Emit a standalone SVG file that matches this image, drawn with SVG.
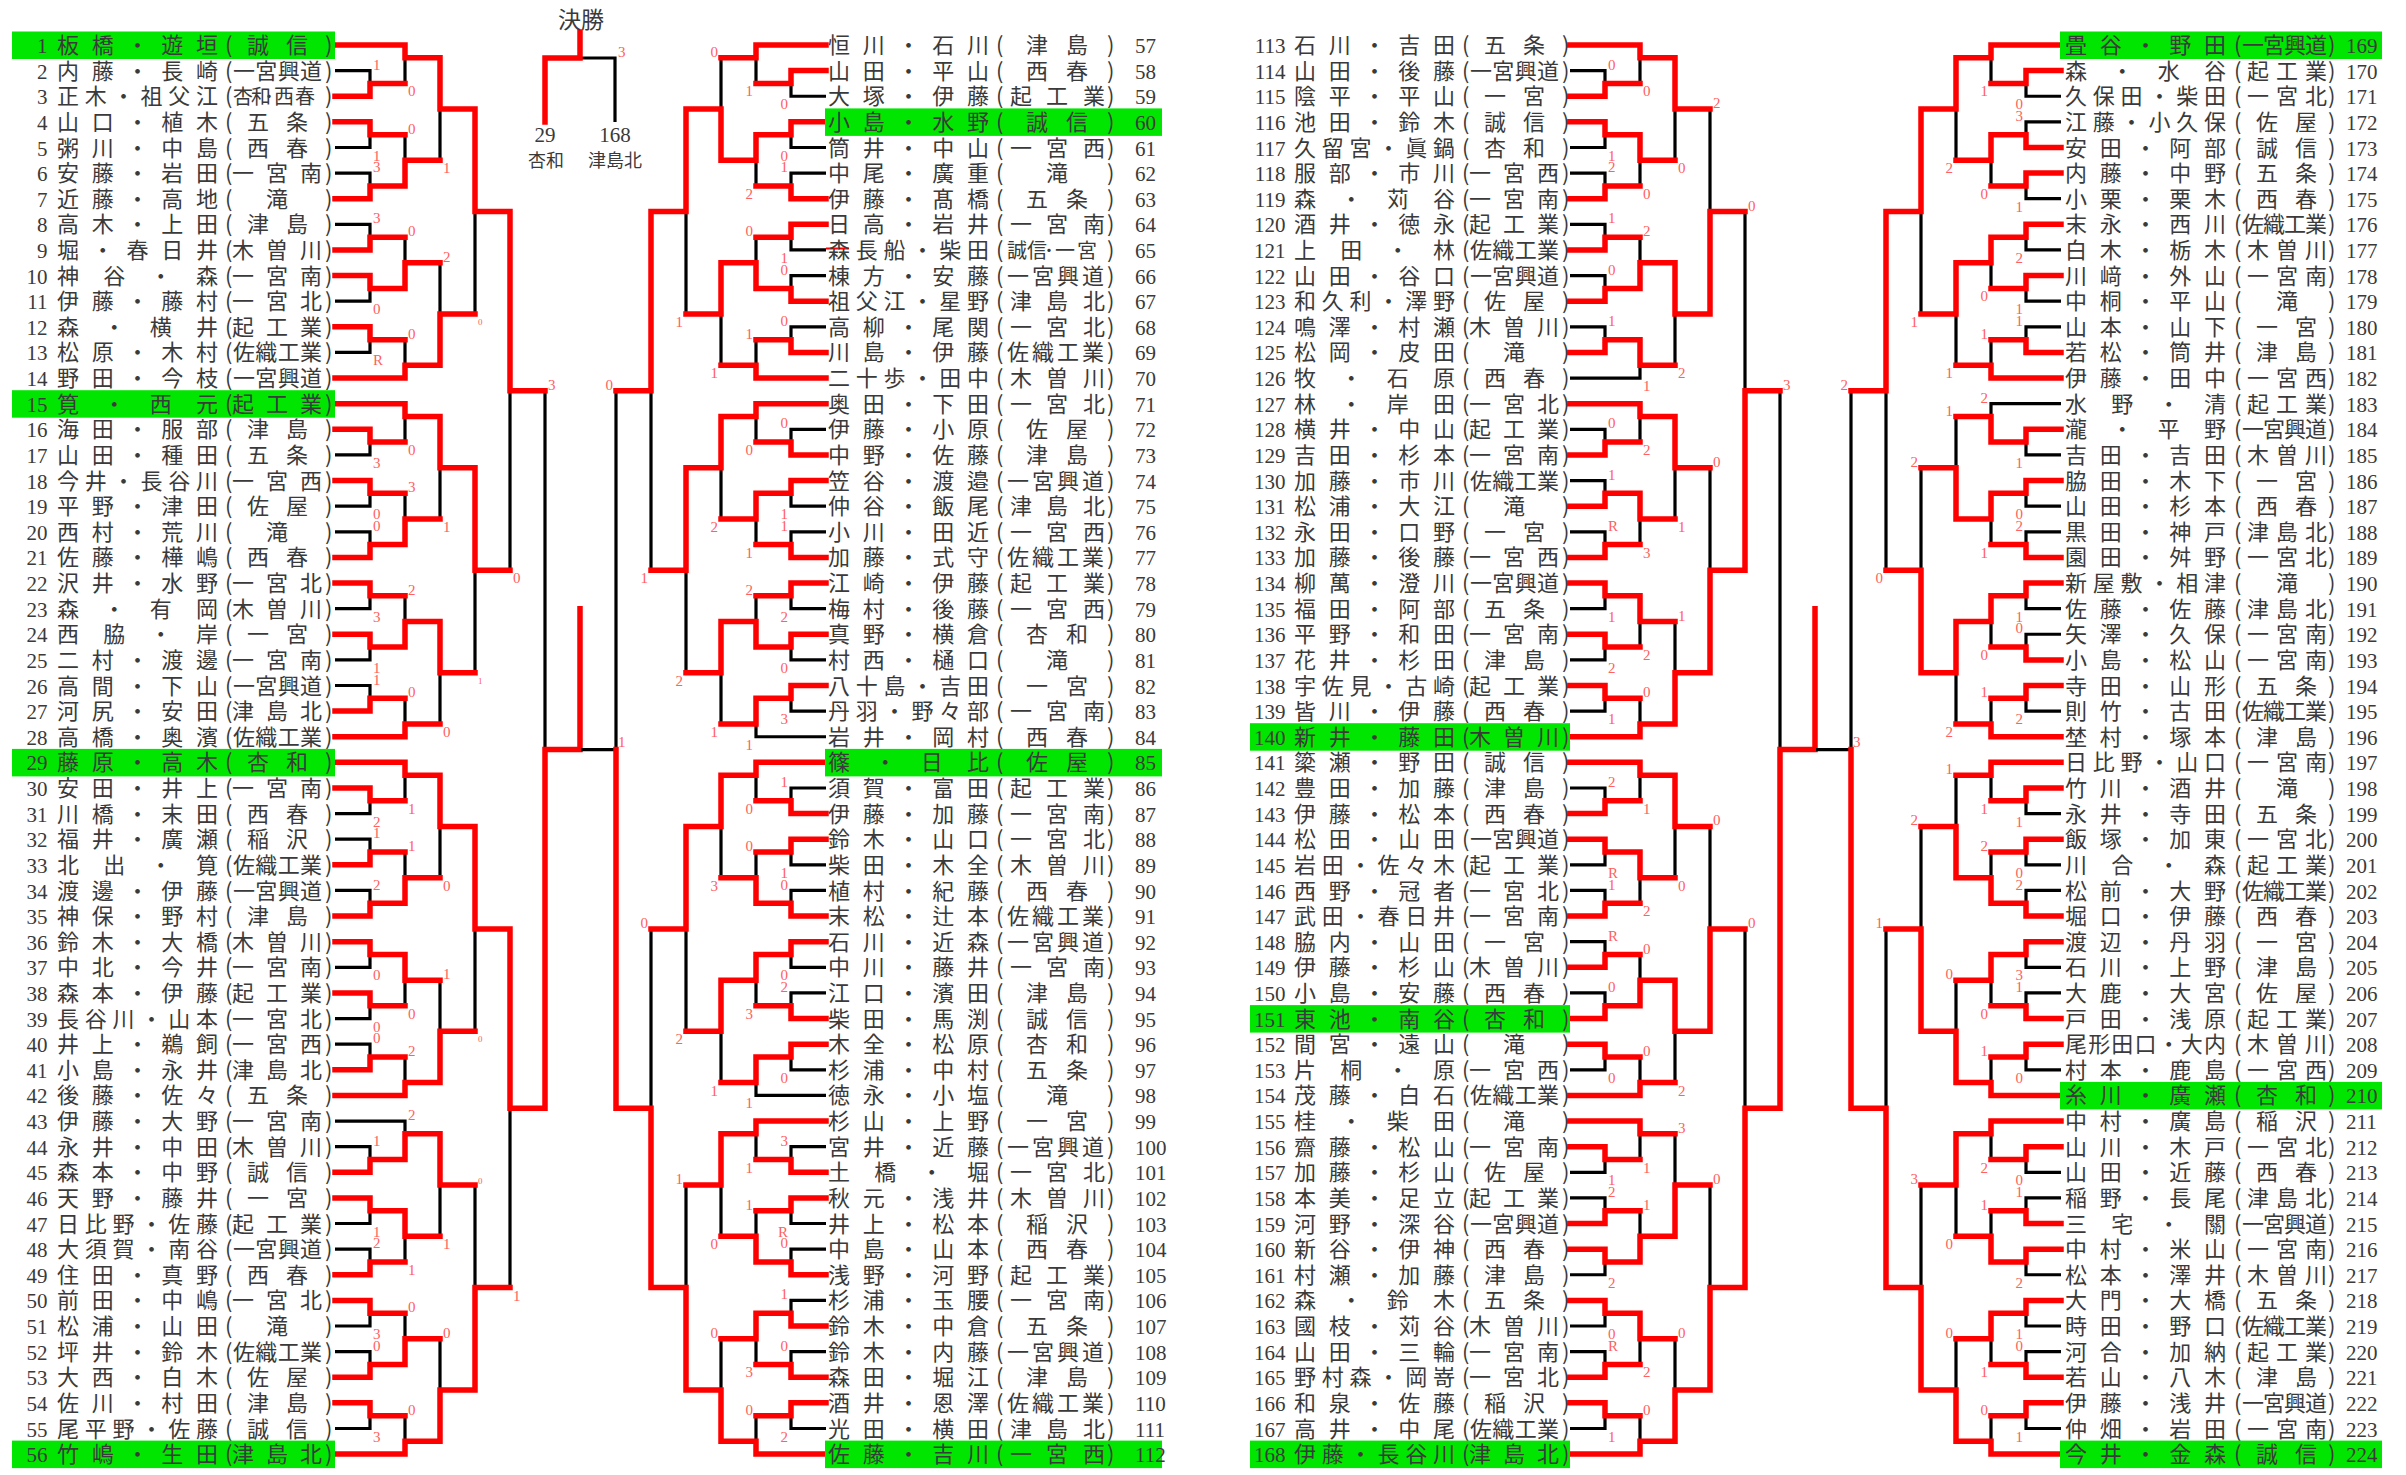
<svg xmlns="http://www.w3.org/2000/svg" width="2406" height="1475" viewBox="0 0 2406 1475">
<style>
.n{font-family:"Noto Sans CJK JP","Noto Sans CJK SC",sans-serif;font-size:22px;fill:#3a3a3a}
.d{font-family:"Liberation Serif",serif;font-size:21px;fill:#3a3a3a}
.e{text-anchor:end}
.m{text-anchor:middle}
.s{font-family:"Liberation Serif",serif;font-size:15px;fill:#ff6060}
.ss{font-size:9px}
.hl{fill:#00e600}
.k{fill:none;stroke:#000;stroke-width:3.2}
.r{fill:none;stroke:#f00;stroke-width:5.5;stroke-linecap:square;stroke-linejoin:miter}
</style>
<defs>
<path id="gb" vector-effect="non-scaling-stroke" fill="none" stroke="#000" stroke-width="3.2" d="M0 1H1V2H0M0 3H1V4H0M0 5H1V6H0M0 7H1V8H0M0 9H1V10H0M0 11H1V12H0M0 0H2V1.5H1M1 3.5H2V5.5H1M1 7.5H2V9.5H1M1 11.5H2V13H0M2 .5H3V4.5H2M2 8.5H3V12.5H2M3 2.5H4V10.5H3"/>
</defs>
<rect width="2406" height="1475" fill="#fff"/>

<g id="connectors">
<g id="bracket1" transform="translate(335 45) scale(35 25.62)">
<use href="#gb"/><use href="#gb" y="14"/><use href="#gb" y="28"/><use href="#gb" y="42"/>
<path class="k" vector-effect="non-scaling-stroke" d="M4 6.5H5V20.5H4M4 34.5H5V48.5H4M5 13.5H6V41.5H5M6 27.5H7"/>
<path class="r" vector-effect="non-scaling-stroke" d="M0 2H1V1.5H2M0 3H1V3.5H2M0 6H1V5.5H2M0 8H1V7.5H2M0 9H1V9.5H2M0 11H1V11.5H2M0 0H2V.5H3M1 5.5H2V4.5H3M1 9.5H2V8.5H3M0 13H2V12.5H3M2 .5H3V2.5H4M2 12.5H3V10.5H4M3 2.5H4V6.5H5
M0 15H1V15.5H2M0 17H1V17.5H2M0 20H1V19.5H2M0 21H1V21.5H2M0 23H1V23.5H2M0 26H1V25.5H2M0 14H2V14.5H3M1 19.5H2V18.5H3M1 23.5H2V22.5H3M0 27H2V26.5H3M2 14.5H3V16.5H4M2 22.5H3V24.5H4M3 16.5H4V20.5H5
M0 29H1V29.5H2M0 32H1V31.5H2M0 34H1V33.5H2M0 35H1V35.5H2M0 37H1V37.5H2M0 40H1V39.5H2M0 28H2V28.5H3M1 33.5H2V32.5H3M1 35.5H2V36.5H3M0 41H2V40.5H3M2 28.5H3V30.5H4M2 40.5H3V38.5H4M3 30.5H4V34.5H5
M0 44H1V43.5H2M0 45H1V45.5H2M0 48H1V47.5H2M0 49H1V49.5H2M0 52H1V51.5H2M0 53H1V53.5H2M1 43.5H2V42.5H3M1 45.5H2V46.5H3M1 51.5H2V50.5H3M0 55H2V54.5H3M2 42.5H3V44.5H4M2 54.5H3V52.5H4M3 52.5H4V48.5H5
M4 6.5H5V13.5H6M4 34.5H5V41.5H6M5 41.5H6V27.5H7V22"/>
</g>
<g id="bracket2" transform="translate(826 45) scale(-35 25.62)">
<use href="#gb"/><use href="#gb" y="14"/><use href="#gb" y="28"/><use href="#gb" y="42"/>
<path class="k" vector-effect="non-scaling-stroke" d="M4 6.5H5V20.5H4M4 34.5H5V48.5H4M5 13.5H6V41.5H5M6 27.5H7"/>
<path class="r" vector-effect="non-scaling-stroke" d="M0 1H1V1.5H2M0 3H1V3.5H2M0 6H1V5.5H2M0 7H1V7.5H2M0 10H1V9.5H2M0 12H1V11.5H2M0 0H2V.5H3M1 3.5H2V4.5H3M1 9.5H2V8.5H3M0 13H2V12.5H3M2 4.5H3V2.5H4M2 8.5H3V10.5H4M3 2.5H4V6.5H5
M0 16H1V15.5H2M0 17H1V17.5H2M0 20H1V19.5H2M0 21H1V21.5H2M0 23H1V23.5H2M0 25H1V25.5H2M0 14H2V14.5H3M1 17.5H2V18.5H3M1 23.5H2V22.5H3M1 25.5H2V26.5H3M2 14.5H3V16.5H4M2 22.5H3V24.5H4M3 16.5H4V20.5H5
M0 30H1V29.5H2M0 31H1V31.5H2M0 34H1V33.5H2M0 35H1V35.5H2M0 38H1V37.5H2M0 39H1V39.5H2M0 28H2V28.5H3M1 33.5H2V32.5H3M1 35.5H2V36.5H3M1 39.5H2V40.5H3M2 28.5H3V30.5H4M2 36.5H3V38.5H4M3 30.5H4V34.5H5
M0 44H1V43.5H2M0 45H1V45.5H2M0 48H1V47.5H2M0 50H1V49.5H2M0 52H1V51.5H2M0 53H1V53.5H2M0 42H2V42.5H3M1 47.5H2V46.5H3M1 49.5H2V50.5H3M0 55H2V54.5H3M2 42.5H3V44.5H4M2 54.5H3V52.5H4M3 52.5H4V48.5H5
M4 6.5H5V13.5H6M4 48.5H5V41.5H6M5 41.5H6V27.5"/>
</g>
<g id="bracket3" transform="translate(1570 45) scale(35 25.62)">
<use href="#gb"/><use href="#gb" y="14"/><use href="#gb" y="28"/><use href="#gb" y="42"/>
<path class="k" vector-effect="non-scaling-stroke" d="M4 6.5H5V20.5H4M4 34.5H5V48.5H4M5 13.5H6V41.5H5M6 27.5H7"/>
<path class="r" vector-effect="non-scaling-stroke" d="M0 2H1V1.5H2M0 3H1V3.5H2M0 6H1V5.5H2M0 8H1V7.5H2M0 10H1V9.5H2M0 12H1V11.5H2M0 0H2V.5H3M1 3.5H2V4.5H3M1 9.5H2V8.5H3M1 11.5H2V12.5H3M2 .5H3V2.5H4M2 8.5H3V10.5H4M3 10.5H4V6.5H5
M0 16H1V15.5H2M0 18H1V17.5H2M0 20H1V19.5H2M0 21H1V21.5H2M0 23H1V23.5H2M0 25H1V25.5H2M0 14H2V14.5H3M1 17.5H2V18.5H3M1 21.5H2V22.5H3M0 27H2V26.5H3M2 14.5H3V16.5H4M2 26.5H3V24.5H4M3 24.5H4V20.5H5
M0 30H1V29.5H2M0 31H1V31.5H2M0 34H1V33.5H2M0 36H1V35.5H2M0 38H1V37.5H2M0 39H1V39.5H2M0 28H2V28.5H3M1 31.5H2V32.5H3M1 37.5H2V36.5H3M0 41H2V40.5H3M2 28.5H3V30.5H4M2 36.5H3V38.5H4M3 38.5H4V34.5H5
M0 43H1V43.5H2M0 46H1V45.5H2M0 47H1V47.5H2M0 49H1V49.5H2M0 52H1V51.5H2M0 53H1V53.5H2M0 42H2V42.5H3M1 47.5H2V46.5H3M1 49.5H2V50.5H3M0 55H2V54.5H3M2 46.5H3V44.5H4M2 54.5H3V52.5H4M3 52.5H4V48.5H5
M4 20.5H5V13.5H6M4 48.5H5V41.5H6M5 41.5H6V27.5H7V22"/>
</g>
<g id="bracket4" transform="translate(2061 45) scale(-35 25.62)">
<use href="#gb"/><use href="#gb" y="14"/><use href="#gb" y="28"/><use href="#gb" y="42"/>
<path class="k" vector-effect="non-scaling-stroke" d="M4 6.5H5V20.5H4M4 34.5H5V48.5H4M5 13.5H6V41.5H5M6 27.5H7"/>
<path class="r" vector-effect="non-scaling-stroke" d="M0 1H1V1.5H2M0 4H1V3.5H2M0 5H1V5.5H2M0 7H1V7.5H2M0 9H1V9.5H2M0 12H1V11.5H2M0 0H2V.5H3M1 3.5H2V4.5H3M1 7.5H2V8.5H3M0 13H2V12.5H3M2 .5H3V2.5H4M2 8.5H3V10.5H4M3 2.5H4V6.5H5
M0 15H1V15.5H2M0 17H1V17.5H2M0 20H1V19.5H2M0 21H1V21.5H2M0 24H1V23.5H2M0 25H1V25.5H2M1 15.5H2V14.5H3M1 17.5H2V18.5H3M1 21.5H2V22.5H3M0 27H2V26.5H3M2 18.5H3V16.5H4M2 22.5H3V24.5H4M3 24.5H4V20.5H5
M0 29H1V29.5H2M0 31H1V31.5H2M0 34H1V33.5H2M0 35H1V35.5H2M0 38H1V37.5H2M0 39H1V39.5H2M0 28H2V28.5H3M1 33.5H2V32.5H3M1 35.5H2V36.5H3M0 41H2V40.5H3M2 32.5H3V30.5H4M2 40.5H3V38.5H4M3 38.5H4V34.5H5
M0 43H1V43.5H2M0 46H1V45.5H2M0 47H1V47.5H2M0 49H1V49.5H2M0 52H1V51.5H2M0 53H1V53.5H2M0 42H2V42.5H3M1 47.5H2V46.5H3M1 49.5H2V50.5H3M0 55H2V54.5H3M2 42.5H3V44.5H4M2 54.5H3V52.5H4M3 52.5H4V48.5H5
M4 6.5H5V13.5H6M4 48.5H5V41.5H6M5 41.5H6V27.5"/>
</g>
<g id="final">
<path class="k" d="M580 58H615V122"/>
<path class="r" d="M580 32V58H545V122"/>
</g>
<path d="M826 248.5H849" stroke="#f00" stroke-width="2"/>
</g>

<g id="final-labels">
<text class="n m" x="581" y="28" style="font-size:23px">決勝</text>
<text class="d m" x="545" y="142">29</text>
<text class="d m" x="615" y="142">168</text>
<text class="n m" x="546" y="167" style="font-size:18px">杏和</text>
<text class="n m" x="615" y="167" style="font-size:18px">津島北</text>
<text class="s" x="618" y="57">3</text>
</g>

<g id="scores1" class="s">
<text x="373" y="69.6">1</text><text x="373" y="160.5">1</text><text x="373" y="172.1">3</text><text x="373" y="223.3">3</text><text x="373" y="314.2">0</text><text x="373" y="365.4">R</text>
<text x="408" y="96.4">0</text><text x="408" y="133.7">0</text><text x="408" y="236.2">0</text><text x="408" y="338.6">0</text>
<text x="443" y="173.3">1</text><text x="443" y="261.8">2</text><text class="ss" x="478" y="325">0</text>
<text x="373" y="467.9">3</text><text x="373" y="519.2">0</text><text x="373" y="530.8">0</text><text x="373" y="621.6">3</text><text x="373" y="672.9">1</text><text x="373" y="684.5">1</text>
<text x="408" y="455.1">0</text><text x="408" y="492.4">3</text><text x="408" y="594.8">2</text><text x="408" y="697.3">0</text>
<text x="443" y="532">1</text><text x="443" y="736.9">0</text><text class="ss" x="478" y="683.7">1</text><text x="513" y="583.2">0</text>
<text x="373" y="826.6">2</text><text x="373" y="838.2">1</text><text x="373" y="889.5">2</text><text x="373" y="980.3">0</text><text x="373" y="1031.6">0</text><text x="373" y="1043.2">0</text>
<text x="408" y="813.8">1</text><text x="408" y="851">1</text><text x="408" y="1018.8">0</text><text x="408" y="1056">2</text>
<text x="443" y="890.7">0</text><text x="443" y="979.1">1</text><text class="ss" x="478" y="1042.4">0</text>
<text x="373" y="1145.7">1</text><text x="373" y="1236.5">1</text><text x="373" y="1248.1">2</text><text x="373" y="1339">3</text><text x="373" y="1350.6">0</text><text x="373" y="1441.5">3</text>
<text x="408" y="1120">2</text><text x="408" y="1275">1</text><text x="408" y="1312.2">0</text><text x="408" y="1414.7">0</text>
<text x="443" y="1249.3">1</text><text x="443" y="1337.8">0</text><text class="ss" x="478" y="1184.1">0</text>
<text x="513" y="1300.6">1</text><text x="548" y="389.9">3</text>
<text x="618" y="747">1</text>
</g>
<g id="scores2" class="s e">
<text x="788" y="109.2">0</text><text x="788" y="160.5">0</text><text x="788" y="172.1">1</text><text x="788" y="263">1</text><text x="788" y="274.6">0</text><text x="788" y="325.8">0</text>
<text x="753" y="96.4">1</text><text x="753" y="198.9">2</text><text x="753" y="236.2">0</text><text x="753" y="338.6">1</text>
<text x="718" y="56.8">0</text><text x="718" y="378.3">1</text><text x="683" y="327">1</text>
<text x="788" y="428.3">0</text><text x="788" y="519.2">1</text><text x="788" y="530.8">1</text><text x="788" y="621.6">2</text><text x="788" y="672.9">0</text><text x="788" y="724.1">3</text>
<text x="753" y="455.1">0</text><text x="753" y="557.6">1</text><text x="753" y="594.8">2</text><text x="753" y="749.7">1</text>
<text x="718" y="532">2</text><text x="718" y="736.9">1</text><text x="683" y="685.7">2</text><text x="648" y="583.2">1</text>
<text x="788" y="787">1</text><text x="788" y="877.8">1</text><text x="788" y="889.5">0</text><text x="788" y="980.3">0</text><text x="788" y="991.9">2</text><text x="788" y="1082.8">0</text>
<text x="753" y="813.8">0</text><text x="753" y="851">0</text><text x="753" y="1018.8">3</text><text x="753" y="1108.4">1</text>
<text x="718" y="890.7">3</text><text x="718" y="1095.6">1</text><text x="683" y="1044.4">2</text>
<text x="788" y="1145.7">3</text><text x="788" y="1236.5">R</text><text x="788" y="1248.1">0</text><text x="788" y="1299.4">1</text><text x="788" y="1350.6">0</text><text x="788" y="1441.5">2</text>
<text x="753" y="1172.5">1</text><text x="753" y="1209.7">1</text><text x="753" y="1377.4">3</text><text x="753" y="1414.7">0</text>
<text x="718" y="1249.3">0</text><text x="718" y="1337.8">0</text><text x="683" y="1184.1">1</text>
<text x="648" y="927.9">0</text><text x="613" y="389.9">0</text>
</g>
<g id="scores3" class="s">
<text x="1608" y="69.6">0</text><text x="1608" y="160.5">1</text><text x="1608" y="172.1">2</text><text x="1608" y="223.3">1</text><text x="1608" y="274.6">0</text><text x="1608" y="325.8">1</text>
<text x="1643" y="96.4">0</text><text x="1643" y="198.9">0</text><text x="1643" y="236.2">2</text><text x="1643" y="391.1">1</text>
<text x="1678" y="173.3">0</text><text x="1678" y="378.3">2</text><text x="1713" y="108.1">2</text>
<text x="1608" y="428.3">0</text><text x="1608" y="479.5">1</text><text x="1608" y="530.8">R</text><text x="1608" y="621.6">1</text><text x="1608" y="672.9">2</text><text x="1608" y="724.1">1</text>
<text x="1643" y="455.1">2</text><text x="1643" y="557.6">3</text><text x="1643" y="660.1">2</text><text x="1643" y="697.3">0</text>
<text x="1678" y="532">1</text><text x="1678" y="620.5">1</text><text x="1713" y="466.7">0</text><text x="1748" y="210.5">0</text>
<text x="1608" y="787">2</text><text x="1608" y="877.8">R</text><text x="1608" y="889.5">1</text><text x="1608" y="940.7">R</text><text x="1608" y="991.9">0</text><text x="1608" y="1082.8">0</text>
<text x="1643" y="813.8">1</text><text x="1643" y="916.3">2</text><text x="1643" y="953.5">0</text><text x="1643" y="1056">0</text>
<text x="1678" y="890.7">0</text><text x="1678" y="1095.6">2</text><text x="1713" y="825.4">0</text>
<text x="1608" y="1185.3">1</text><text x="1608" y="1196.9">2</text><text x="1608" y="1287.8">2</text><text x="1608" y="1339">0</text><text x="1608" y="1350.6">R</text><text x="1608" y="1441.5">1</text>
<text x="1643" y="1172.5">1</text><text x="1643" y="1209.7">1</text><text x="1643" y="1377.4">2</text><text x="1643" y="1414.7">0</text>
<text x="1678" y="1132.9">3</text><text x="1678" y="1337.8">0</text><text x="1713" y="1184.1">0</text>
<text x="1748" y="927.9">0</text><text x="1783" y="389.9">3</text>
<text x="1853" y="747">3</text>
</g>
<g id="scores4" class="s e">
<text x="2023" y="109.2">0</text><text x="2023" y="120.9">3</text><text x="2023" y="211.7">1</text><text x="2023" y="263">2</text><text x="2023" y="314.2">1</text><text x="2023" y="325.8">1</text>
<text x="1988" y="96.4">1</text><text x="1988" y="198.9">0</text><text x="1988" y="301.4">0</text><text x="1988" y="338.6">1</text>
<text x="1953" y="173.3">2</text><text x="1953" y="378.3">1</text><text x="1918" y="327">1</text>
<text x="2023" y="467.9">1</text><text x="2023" y="519.2">0</text><text x="2023" y="530.8">2</text><text x="2023" y="621.6">1</text><text x="2023" y="633.3">0</text><text x="2023" y="724.1">2</text>
<text x="1988" y="402.7">2</text><text x="1988" y="557.6">1</text><text x="1988" y="660.1">0</text><text x="1988" y="697.3">1</text>
<text x="1953" y="415.5">1</text><text x="1953" y="736.9">2</text><text x="1918" y="466.7">2</text><text x="1883" y="583.2">0</text>
<text x="2023" y="826.6">1</text><text x="2023" y="877.8">0</text><text x="2023" y="889.5">2</text><text x="2023" y="980.3">3</text><text x="2023" y="991.9">1</text><text x="2023" y="1082.8">0</text>
<text x="1988" y="813.8">1</text><text x="1988" y="851">2</text><text x="1988" y="1018.8">0</text><text x="1988" y="1056">1</text>
<text x="1953" y="774.2">1</text><text x="1953" y="979.1">0</text><text x="1918" y="825.4">2</text>
<text x="2023" y="1185.3">0</text><text x="2023" y="1196.9">1</text><text x="2023" y="1287.8">2</text><text x="2023" y="1339">1</text><text x="2023" y="1350.6">0</text><text x="2023" y="1441.5">1</text>
<text x="1988" y="1172.5">2</text><text x="1988" y="1209.7">1</text><text x="1988" y="1377.4">1</text><text x="1988" y="1414.7">0</text>
<text x="1953" y="1249.3">0</text><text x="1953" y="1337.8">0</text><text x="1918" y="1184.1">3</text>
<text x="1883" y="927.9">1</text>
<text x="1848" y="389.9">2</text>
</g>

<g id="col1">
<g id="p1"><rect class="hl" x="12" y="31.5" width="323" height="27.5"/><text class="d e" x="47.5" y="53">1</text><text class="n" x="57 91.8 126.5 161.3 196 225 247 286 325" y="53">板橋・遊垣(誠信)</text></g>
<g id="p2"><text class="d e" x="47.5" y="78.6">2</text><text class="n" x="57 91.8 126.5 161.3 196 225 233 255.3 277.7 300 325" y="78.6">内藤・長崎(一宮興道)</text></g>
<g id="p3"><text class="d e" x="47.5" y="104.2">3</text><text class="n" x="57 84.8 112.6 140.4 168.2 196 225" y="104.2">正木・祖父江(<tspan x="233 251 264 274 295" style="font-size:20px">杏和･西春</tspan><tspan x="325">)</tspan></text></g>
<g id="p4"><text class="d e" x="47.5" y="129.9">4</text><text class="n" x="57 91.8 126.5 161.3 196 225 247 286 325" y="129.9">山口・植木(五条)</text></g>
<g id="p5"><text class="d e" x="47.5" y="155.5">5</text><text class="n" x="57 91.8 126.5 161.3 196 225 247 286 325" y="155.5">粥川・中島(西春)</text></g>
<g id="p6"><text class="d e" x="47.5" y="181.1">6</text><text class="n" x="57 91.8 126.5 161.3 196 225 232 266 300 325" y="181.1">安藤・岩田(一宮南)</text></g>
<g id="p7"><text class="d e" x="47.5" y="206.7">7</text><text class="n" x="57 91.8 126.5 161.3 196 225 266 325" y="206.7">近藤・高地(滝)</text></g>
<g id="p8"><text class="d e" x="47.5" y="232.3">8</text><text class="n" x="57 91.8 126.5 161.3 196 225 247 286 325" y="232.3">高木・上田(津島)</text></g>
<g id="p9"><text class="d e" x="47.5" y="258">9</text><text class="n" x="57 91.8 126.5 161.3 196 225 232 266 300 325" y="258">堀・春日井(木曽川)</text></g>
<g id="p10"><text class="d e" x="47.5" y="283.6">10</text><text class="n" x="57 103.3 149.7 196 225 232 266 300 325" y="283.6">神谷・森(一宮南)</text></g>
<g id="p11"><text class="d e" x="47.5" y="309.2">11</text><text class="n" x="57 91.8 126.5 161.3 196 225 232 266 300 325" y="309.2">伊藤・藤村(一宮北)</text></g>
<g id="p12"><text class="d e" x="47.5" y="334.8">12</text><text class="n" x="57 103.3 149.7 196 225 232 266 300 325" y="334.8">森・横井(起工業)</text></g>
<g id="p13"><text class="d e" x="47.5" y="360.4">13</text><text class="n" x="57 91.8 126.5 161.3 196 225 233 255.3 277.7 300 325" y="360.4">松原・木村(佐織工業)</text></g>
<g id="p14"><text class="d e" x="47.5" y="386.1">14</text><text class="n" x="57 91.8 126.5 161.3 196 225 233 255.3 277.7 300 325" y="386.1">野田・今枝(一宮興道)</text></g>
<g id="p15"><rect class="hl" x="12" y="390.2" width="323" height="27.5"/><text class="d e" x="47.5" y="411.7">15</text><text class="n" x="57 103.3 149.7 196 225 232 266 300 325" y="411.7">筧・西元(起工業)</text></g>
<g id="p16"><text class="d e" x="47.5" y="437.3">16</text><text class="n" x="57 91.8 126.5 161.3 196 225 247 286 325" y="437.3">海田・服部(津島)</text></g>
<g id="p17"><text class="d e" x="47.5" y="462.9">17</text><text class="n" x="57 91.8 126.5 161.3 196 225 247 286 325" y="462.9">山田・種田(五条)</text></g>
<g id="p18"><text class="d e" x="47.5" y="488.5">18</text><text class="n" x="57 84.8 112.6 140.4 168.2 196 225 232 266 300 325" y="488.5">今井・長谷川(一宮西)</text></g>
<g id="p19"><text class="d e" x="47.5" y="514.2">19</text><text class="n" x="57 91.8 126.5 161.3 196 225 247 286 325" y="514.2">平野・津田(佐屋)</text></g>
<g id="p20"><text class="d e" x="47.5" y="539.8">20</text><text class="n" x="57 91.8 126.5 161.3 196 225 266 325" y="539.8">西村・荒川(滝)</text></g>
<g id="p21"><text class="d e" x="47.5" y="565.4">21</text><text class="n" x="57 91.8 126.5 161.3 196 225 247 286 325" y="565.4">佐藤・樺嶋(西春)</text></g>
<g id="p22"><text class="d e" x="47.5" y="591">22</text><text class="n" x="57 91.8 126.5 161.3 196 225 232 266 300 325" y="591">沢井・水野(一宮北)</text></g>
<g id="p23"><text class="d e" x="47.5" y="616.6">23</text><text class="n" x="57 103.3 149.7 196 225 232 266 300 325" y="616.6">森・有岡(木曽川)</text></g>
<g id="p24"><text class="d e" x="47.5" y="642.3">24</text><text class="n" x="57 103.3 149.7 196 225 247 286 325" y="642.3">西脇・岸(一宮)</text></g>
<g id="p25"><text class="d e" x="47.5" y="667.9">25</text><text class="n" x="57 91.8 126.5 161.3 196 225 232 266 300 325" y="667.9">二村・渡邊(一宮南)</text></g>
<g id="p26"><text class="d e" x="47.5" y="693.5">26</text><text class="n" x="57 91.8 126.5 161.3 196 225 233 255.3 277.7 300 325" y="693.5">高間・下山(一宮興道)</text></g>
<g id="p27"><text class="d e" x="47.5" y="719.1">27</text><text class="n" x="57 91.8 126.5 161.3 196 225 232 266 300 325" y="719.1">河尻・安田(津島北)</text></g>
<g id="p28"><text class="d e" x="47.5" y="744.7">28</text><text class="n" x="57 91.8 126.5 161.3 196 225 233 255.3 277.7 300 325" y="744.7">高橋・奥濱(佐織工業)</text></g>
<g id="p29"><rect class="hl" x="12" y="748.9" width="323" height="27.5"/><text class="d e" x="47.5" y="770.4">29</text><text class="n" x="57 91.8 126.5 161.3 196 225 247 286 325" y="770.4">藤原・高木(杏和)</text></g>
<g id="p30"><text class="d e" x="47.5" y="796">30</text><text class="n" x="57 91.8 126.5 161.3 196 225 232 266 300 325" y="796">安田・井上(一宮南)</text></g>
<g id="p31"><text class="d e" x="47.5" y="821.6">31</text><text class="n" x="57 91.8 126.5 161.3 196 225 247 286 325" y="821.6">川橋・末田(西春)</text></g>
<g id="p32"><text class="d e" x="47.5" y="847.2">32</text><text class="n" x="57 91.8 126.5 161.3 196 225 247 286 325" y="847.2">福井・廣瀬(稲沢)</text></g>
<g id="p33"><text class="d e" x="47.5" y="872.8">33</text><text class="n" x="57 103.3 149.7 196 225 233 255.3 277.7 300 325" y="872.8">北出・筧(佐織工業)</text></g>
<g id="p34"><text class="d e" x="47.5" y="898.5">34</text><text class="n" x="57 91.8 126.5 161.3 196 225 233 255.3 277.7 300 325" y="898.5">渡邊・伊藤(一宮興道)</text></g>
<g id="p35"><text class="d e" x="47.5" y="924.1">35</text><text class="n" x="57 91.8 126.5 161.3 196 225 247 286 325" y="924.1">神保・野村(津島)</text></g>
<g id="p36"><text class="d e" x="47.5" y="949.7">36</text><text class="n" x="57 91.8 126.5 161.3 196 225 232 266 300 325" y="949.7">鈴木・大橋(木曽川)</text></g>
<g id="p37"><text class="d e" x="47.5" y="975.3">37</text><text class="n" x="57 91.8 126.5 161.3 196 225 232 266 300 325" y="975.3">中北・今井(一宮南)</text></g>
<g id="p38"><text class="d e" x="47.5" y="1000.9">38</text><text class="n" x="57 91.8 126.5 161.3 196 225 232 266 300 325" y="1000.9">森本・伊藤(起工業)</text></g>
<g id="p39"><text class="d e" x="47.5" y="1026.6">39</text><text class="n" x="57 84.8 112.6 140.4 168.2 196 225 232 266 300 325" y="1026.6">長谷川・山本(一宮北)</text></g>
<g id="p40"><text class="d e" x="47.5" y="1052.2">40</text><text class="n" x="57 91.8 126.5 161.3 196 225 232 266 300 325" y="1052.2">井上・鵜飼(一宮西)</text></g>
<g id="p41"><text class="d e" x="47.5" y="1077.8">41</text><text class="n" x="57 91.8 126.5 161.3 196 225 232 266 300 325" y="1077.8">小島・永井(津島北)</text></g>
<g id="p42"><text class="d e" x="47.5" y="1103.4">42</text><text class="n" x="57 91.8 126.5 161.3 196 225 247 286 325" y="1103.4">後藤・佐々(五条)</text></g>
<g id="p43"><text class="d e" x="47.5" y="1129">43</text><text class="n" x="57 91.8 126.5 161.3 196 225 232 266 300 325" y="1129">伊藤・大野(一宮南)</text></g>
<g id="p44"><text class="d e" x="47.5" y="1154.7">44</text><text class="n" x="57 91.8 126.5 161.3 196 225 232 266 300 325" y="1154.7">永井・中田(木曽川)</text></g>
<g id="p45"><text class="d e" x="47.5" y="1180.3">45</text><text class="n" x="57 91.8 126.5 161.3 196 225 247 286 325" y="1180.3">森本・中野(誠信)</text></g>
<g id="p46"><text class="d e" x="47.5" y="1205.9">46</text><text class="n" x="57 91.8 126.5 161.3 196 225 247 286 325" y="1205.9">天野・藤井(一宮)</text></g>
<g id="p47"><text class="d e" x="47.5" y="1231.5">47</text><text class="n" x="57 84.8 112.6 140.4 168.2 196 225 232 266 300 325" y="1231.5">日比野・佐藤(起工業)</text></g>
<g id="p48"><text class="d e" x="47.5" y="1257.1">48</text><text class="n" x="57 84.8 112.6 140.4 168.2 196 225 233 255.3 277.7 300 325" y="1257.1">大須賀・南谷(一宮興道)</text></g>
<g id="p49"><text class="d e" x="47.5" y="1282.8">49</text><text class="n" x="57 91.8 126.5 161.3 196 225 247 286 325" y="1282.8">住田・真野(西春)</text></g>
<g id="p50"><text class="d e" x="47.5" y="1308.4">50</text><text class="n" x="57 91.8 126.5 161.3 196 225 232 266 300 325" y="1308.4">前田・中嶋(一宮北)</text></g>
<g id="p51"><text class="d e" x="47.5" y="1334">51</text><text class="n" x="57 91.8 126.5 161.3 196 225 266 325" y="1334">松浦・山田(滝)</text></g>
<g id="p52"><text class="d e" x="47.5" y="1359.6">52</text><text class="n" x="57 91.8 126.5 161.3 196 225 233 255.3 277.7 300 325" y="1359.6">坪井・鈴木(佐織工業)</text></g>
<g id="p53"><text class="d e" x="47.5" y="1385.2">53</text><text class="n" x="57 91.8 126.5 161.3 196 225 247 286 325" y="1385.2">大西・白木(佐屋)</text></g>
<g id="p54"><text class="d e" x="47.5" y="1410.9">54</text><text class="n" x="57 91.8 126.5 161.3 196 225 247 286 325" y="1410.9">佐川・村田(津島)</text></g>
<g id="p55"><text class="d e" x="47.5" y="1436.5">55</text><text class="n" x="57 84.8 112.6 140.4 168.2 196 225 247 286 325" y="1436.5">尾平野・佐藤(誠信)</text></g>
<g id="p56"><rect class="hl" x="12" y="1440.6" width="323" height="27.5"/><text class="d e" x="47.5" y="1462.1">56</text><text class="n" x="57 91.8 126.5 161.3 196 225 232 266 300 325" y="1462.1">竹嶋・生田(津島北)</text></g>
</g>

<g id="col2" transform="translate(771 0)">
<g id="p57"><text class="d" x="364" y="53">57</text><text class="n" x="57 91.8 126.5 161.3 196 225 255 295 336" y="53">恒川・石川(津島)</text></g>
<g id="p58"><text class="d" x="364" y="78.6">58</text><text class="n" x="57 91.8 126.5 161.3 196 225 255 295 336" y="78.6">山田・平山(西春)</text></g>
<g id="p59"><text class="d" x="364" y="104.2">59</text><text class="n" x="57 91.8 126.5 161.3 196 225 239 275 312 336" y="104.2">大塚・伊藤(起工業)</text></g>
<g id="p60"><rect class="hl" x="54" y="108.4" width="337" height="27.5"/><text class="d" x="364" y="129.9">60</text><text class="n" x="57 91.8 126.5 161.3 196 225 255 295 336" y="129.9">小島・水野(誠信)</text></g>
<g id="p61"><text class="d" x="364" y="155.5">61</text><text class="n" x="57 91.8 126.5 161.3 196 225 239 275 312 336" y="155.5">筒井・中山(一宮西)</text></g>
<g id="p62"><text class="d" x="364" y="181.1">62</text><text class="n" x="57 91.8 126.5 161.3 196 225 275 336" y="181.1">中尾・廣重(滝)</text></g>
<g id="p63"><text class="d" x="364" y="206.7">63</text><text class="n" x="57 91.8 126.5 161.3 196 225 255 295 336" y="206.7">伊藤・髙橋(五条)</text></g>
<g id="p64"><text class="d" x="364" y="232.3">64</text><text class="n" x="57 91.8 126.5 161.3 196 225 239 275 312 336" y="232.3">日高・岩井(一宮南)</text></g>
<g id="p65"><text class="d" x="364" y="258">65</text><text class="n" x="57 84.8 112.6 140.4 168.2 196 225" y="258">森長船・柴田(<tspan x="236 256 273 284 306" style="font-size:20px">誠信･一宮</tspan><tspan x="336">)</tspan></text></g>
<g id="p66"><text class="d" x="364" y="283.6">66</text><text class="n" x="57 91.8 126.5 161.3 196 225 236 261 286 311 336" y="283.6">棟方・安藤(一宮興道)</text></g>
<g id="p67"><text class="d" x="364" y="309.2">67</text><text class="n" x="57 84.8 112.6 140.4 168.2 196 225 239 275 312 336" y="309.2">祖父江・星野(津島北)</text></g>
<g id="p68"><text class="d" x="364" y="334.8">68</text><text class="n" x="57 91.8 126.5 161.3 196 225 239 275 312 336" y="334.8">高柳・尾関(一宮北)</text></g>
<g id="p69"><text class="d" x="364" y="360.4">69</text><text class="n" x="57 91.8 126.5 161.3 196 225 236 261 286 311 336" y="360.4">川島・伊藤(佐織工業)</text></g>
<g id="p70"><text class="d" x="364" y="386.1">70</text><text class="n" x="57 84.8 112.6 140.4 168.2 196 225 239 275 312 336" y="386.1">二十歩・田中(木曽川)</text></g>
<g id="p71"><text class="d" x="364" y="411.7">71</text><text class="n" x="57 91.8 126.5 161.3 196 225 239 275 312 336" y="411.7">奥田・下田(一宮北)</text></g>
<g id="p72"><text class="d" x="364" y="437.3">72</text><text class="n" x="57 91.8 126.5 161.3 196 225 255 295 336" y="437.3">伊藤・小原(佐屋)</text></g>
<g id="p73"><text class="d" x="364" y="462.9">73</text><text class="n" x="57 91.8 126.5 161.3 196 225 255 295 336" y="462.9">中野・佐藤(津島)</text></g>
<g id="p74"><text class="d" x="364" y="488.5">74</text><text class="n" x="57 91.8 126.5 161.3 196 225 236 261 286 311 336" y="488.5">笠谷・渡邉(一宮興道)</text></g>
<g id="p75"><text class="d" x="364" y="514.2">75</text><text class="n" x="57 91.8 126.5 161.3 196 225 239 275 312 336" y="514.2">仲谷・飯尾(津島北)</text></g>
<g id="p76"><text class="d" x="364" y="539.8">76</text><text class="n" x="57 91.8 126.5 161.3 196 225 239 275 312 336" y="539.8">小川・田近(一宮西)</text></g>
<g id="p77"><text class="d" x="364" y="565.4">77</text><text class="n" x="57 91.8 126.5 161.3 196 225 236 261 286 311 336" y="565.4">加藤・式守(佐織工業)</text></g>
<g id="p78"><text class="d" x="364" y="591">78</text><text class="n" x="57 91.8 126.5 161.3 196 225 239 275 312 336" y="591">江崎・伊藤(起工業)</text></g>
<g id="p79"><text class="d" x="364" y="616.6">79</text><text class="n" x="57 91.8 126.5 161.3 196 225 239 275 312 336" y="616.6">梅村・後藤(一宮西)</text></g>
<g id="p80"><text class="d" x="364" y="642.3">80</text><text class="n" x="57 91.8 126.5 161.3 196 225 255 295 336" y="642.3">真野・横倉(杏和)</text></g>
<g id="p81"><text class="d" x="364" y="667.9">81</text><text class="n" x="57 91.8 126.5 161.3 196 225 275 336" y="667.9">村西・樋口(滝)</text></g>
<g id="p82"><text class="d" x="364" y="693.5">82</text><text class="n" x="57 84.8 112.6 140.4 168.2 196 225 255 295 336" y="693.5">八十島・吉田(一宮)</text></g>
<g id="p83"><text class="d" x="364" y="719.1">83</text><text class="n" x="57 84.8 112.6 140.4 168.2 196 225 239 275 312 336" y="719.1">丹羽・野々部(一宮南)</text></g>
<g id="p84"><text class="d" x="364" y="744.7">84</text><text class="n" x="57 91.8 126.5 161.3 196 225 255 295 336" y="744.7">岩井・岡村(西春)</text></g>
<g id="p85"><rect class="hl" x="54" y="748.9" width="337" height="27.5"/><text class="d" x="364" y="770.4">85</text><text class="n" x="57 103.3 149.7 196 225 255 295 336" y="770.4">篠・日比(佐屋)</text></g>
<g id="p86"><text class="d" x="364" y="796">86</text><text class="n" x="57 91.8 126.5 161.3 196 225 239 275 312 336" y="796">須賀・富田(起工業)</text></g>
<g id="p87"><text class="d" x="364" y="821.6">87</text><text class="n" x="57 91.8 126.5 161.3 196 225 239 275 312 336" y="821.6">伊藤・加藤(一宮南)</text></g>
<g id="p88"><text class="d" x="364" y="847.2">88</text><text class="n" x="57 91.8 126.5 161.3 196 225 239 275 312 336" y="847.2">鈴木・山口(一宮北)</text></g>
<g id="p89"><text class="d" x="364" y="872.8">89</text><text class="n" x="57 91.8 126.5 161.3 196 225 239 275 312 336" y="872.8">柴田・木全(木曽川)</text></g>
<g id="p90"><text class="d" x="364" y="898.5">90</text><text class="n" x="57 91.8 126.5 161.3 196 225 255 295 336" y="898.5">植村・紀藤(西春)</text></g>
<g id="p91"><text class="d" x="364" y="924.1">91</text><text class="n" x="57 91.8 126.5 161.3 196 225 236 261 286 311 336" y="924.1">末松・辻本(佐織工業)</text></g>
<g id="p92"><text class="d" x="364" y="949.7">92</text><text class="n" x="57 91.8 126.5 161.3 196 225 236 261 286 311 336" y="949.7">石川・近森(一宮興道)</text></g>
<g id="p93"><text class="d" x="364" y="975.3">93</text><text class="n" x="57 91.8 126.5 161.3 196 225 239 275 312 336" y="975.3">中川・藤井(一宮南)</text></g>
<g id="p94"><text class="d" x="364" y="1000.9">94</text><text class="n" x="57 91.8 126.5 161.3 196 225 255 295 336" y="1000.9">江口・濱田(津島)</text></g>
<g id="p95"><text class="d" x="364" y="1026.6">95</text><text class="n" x="57 91.8 126.5 161.3 196 225 255 295 336" y="1026.6">柴田・馬渕(誠信)</text></g>
<g id="p96"><text class="d" x="364" y="1052.2">96</text><text class="n" x="57 91.8 126.5 161.3 196 225 255 295 336" y="1052.2">木全・松原(杏和)</text></g>
<g id="p97"><text class="d" x="364" y="1077.8">97</text><text class="n" x="57 91.8 126.5 161.3 196 225 255 295 336" y="1077.8">杉浦・中村(五条)</text></g>
<g id="p98"><text class="d" x="364" y="1103.4">98</text><text class="n" x="57 91.8 126.5 161.3 196 225 275 336" y="1103.4">徳永・小塩(滝)</text></g>
<g id="p99"><text class="d" x="364" y="1129">99</text><text class="n" x="57 91.8 126.5 161.3 196 225 255 295 336" y="1129">杉山・上野(一宮)</text></g>
<g id="p100"><text class="d" x="364" y="1154.7">100</text><text class="n" x="57 91.8 126.5 161.3 196 225 236 261 286 311 336" y="1154.7">宮井・近藤(一宮興道)</text></g>
<g id="p101"><text class="d" x="364" y="1180.3">101</text><text class="n" x="57 103.3 149.7 196 225 239 275 312 336" y="1180.3">土橋・堀(一宮北)</text></g>
<g id="p102"><text class="d" x="364" y="1205.9">102</text><text class="n" x="57 91.8 126.5 161.3 196 225 239 275 312 336" y="1205.9">秋元・浅井(木曽川)</text></g>
<g id="p103"><text class="d" x="364" y="1231.5">103</text><text class="n" x="57 91.8 126.5 161.3 196 225 255 295 336" y="1231.5">井上・松本(稲沢)</text></g>
<g id="p104"><text class="d" x="364" y="1257.1">104</text><text class="n" x="57 91.8 126.5 161.3 196 225 255 295 336" y="1257.1">中島・山本(西春)</text></g>
<g id="p105"><text class="d" x="364" y="1282.8">105</text><text class="n" x="57 91.8 126.5 161.3 196 225 239 275 312 336" y="1282.8">浅野・河野(起工業)</text></g>
<g id="p106"><text class="d" x="364" y="1308.4">106</text><text class="n" x="57 91.8 126.5 161.3 196 225 239 275 312 336" y="1308.4">杉浦・玉腰(一宮南)</text></g>
<g id="p107"><text class="d" x="364" y="1334">107</text><text class="n" x="57 91.8 126.5 161.3 196 225 255 295 336" y="1334">鈴木・中倉(五条)</text></g>
<g id="p108"><text class="d" x="364" y="1359.6">108</text><text class="n" x="57 91.8 126.5 161.3 196 225 236 261 286 311 336" y="1359.6">鈴木・内藤(一宮興道)</text></g>
<g id="p109"><text class="d" x="364" y="1385.2">109</text><text class="n" x="57 91.8 126.5 161.3 196 225 255 295 336" y="1385.2">森田・堀江(津島)</text></g>
<g id="p110"><text class="d" x="364" y="1410.9">110</text><text class="n" x="57 91.8 126.5 161.3 196 225 236 261 286 311 336" y="1410.9">酒井・恩澤(佐織工業)</text></g>
<g id="p111"><text class="d" x="364" y="1436.5">111</text><text class="n" x="57 91.8 126.5 161.3 196 225 239 275 312 336" y="1436.5">光田・横田(津島北)</text></g>
<g id="p112"><rect class="hl" x="54" y="1440.6" width="337" height="27.5"/><text class="d" x="364" y="1462.1">112</text><text class="n" x="57 91.8 126.5 161.3 196 225 239 275 312 336" y="1462.1">佐藤・吉川(一宮西)</text></g>
</g>

<g id="col3" transform="translate(1237 0)">
<g id="p113"><text class="d e" x="48.5" y="53">113</text><text class="n" x="57 91.8 126.5 161.3 196 225 247 286 325" y="53">石川・吉田(五条)</text></g>
<g id="p114"><text class="d e" x="48.5" y="78.6">114</text><text class="n" x="57 91.8 126.5 161.3 196 225 233 255.3 277.7 300 325" y="78.6">山田・後藤(一宮興道)</text></g>
<g id="p115"><text class="d e" x="48.5" y="104.2">115</text><text class="n" x="57 91.8 126.5 161.3 196 225 247 286 325" y="104.2">陰平・平山(一宮)</text></g>
<g id="p116"><text class="d e" x="48.5" y="129.9">116</text><text class="n" x="57 91.8 126.5 161.3 196 225 247 286 325" y="129.9">池田・鈴木(誠信)</text></g>
<g id="p117"><text class="d e" x="48.5" y="155.5">117</text><text class="n" x="57 84.8 112.6 140.4 168.2 196 225 247 286 325" y="155.5">久留宮・眞鍋(杏和)</text></g>
<g id="p118"><text class="d e" x="48.5" y="181.1">118</text><text class="n" x="57 91.8 126.5 161.3 196 225 232 266 300 325" y="181.1">服部・市川(一宮西)</text></g>
<g id="p119"><text class="d e" x="48.5" y="206.7">119</text><text class="n" x="57 103.3 149.7 196 225 232 266 300 325" y="206.7">森・苅谷(一宮南)</text></g>
<g id="p120"><text class="d e" x="48.5" y="232.3">120</text><text class="n" x="57 91.8 126.5 161.3 196 225 232 266 300 325" y="232.3">酒井・徳永(起工業)</text></g>
<g id="p121"><text class="d e" x="48.5" y="258">121</text><text class="n" x="57 103.3 149.7 196 225 233 255.3 277.7 300 325" y="258">上田・林(佐織工業)</text></g>
<g id="p122"><text class="d e" x="48.5" y="283.6">122</text><text class="n" x="57 91.8 126.5 161.3 196 225 233 255.3 277.7 300 325" y="283.6">山田・谷口(一宮興道)</text></g>
<g id="p123"><text class="d e" x="48.5" y="309.2">123</text><text class="n" x="57 84.8 112.6 140.4 168.2 196 225 247 286 325" y="309.2">和久利・澤野(佐屋)</text></g>
<g id="p124"><text class="d e" x="48.5" y="334.8">124</text><text class="n" x="57 91.8 126.5 161.3 196 225 232 266 300 325" y="334.8">鳴澤・村瀬(木曽川)</text></g>
<g id="p125"><text class="d e" x="48.5" y="360.4">125</text><text class="n" x="57 91.8 126.5 161.3 196 225 266 325" y="360.4">松岡・皮田(滝)</text></g>
<g id="p126"><text class="d e" x="48.5" y="386.1">126</text><text class="n" x="57 103.3 149.7 196 225 247 286 325" y="386.1">牧・石原(西春)</text></g>
<g id="p127"><text class="d e" x="48.5" y="411.7">127</text><text class="n" x="57 103.3 149.7 196 225 232 266 300 325" y="411.7">林・岸田(一宮北)</text></g>
<g id="p128"><text class="d e" x="48.5" y="437.3">128</text><text class="n" x="57 91.8 126.5 161.3 196 225 232 266 300 325" y="437.3">横井・中山(起工業)</text></g>
<g id="p129"><text class="d e" x="48.5" y="462.9">129</text><text class="n" x="57 91.8 126.5 161.3 196 225 232 266 300 325" y="462.9">吉田・杉本(一宮南)</text></g>
<g id="p130"><text class="d e" x="48.5" y="488.5">130</text><text class="n" x="57 91.8 126.5 161.3 196 225 233 255.3 277.7 300 325" y="488.5">加藤・市川(佐織工業)</text></g>
<g id="p131"><text class="d e" x="48.5" y="514.2">131</text><text class="n" x="57 91.8 126.5 161.3 196 225 266 325" y="514.2">松浦・大江(滝)</text></g>
<g id="p132"><text class="d e" x="48.5" y="539.8">132</text><text class="n" x="57 91.8 126.5 161.3 196 225 247 286 325" y="539.8">永田・口野(一宮)</text></g>
<g id="p133"><text class="d e" x="48.5" y="565.4">133</text><text class="n" x="57 91.8 126.5 161.3 196 225 232 266 300 325" y="565.4">加藤・後藤(一宮西)</text></g>
<g id="p134"><text class="d e" x="48.5" y="591">134</text><text class="n" x="57 91.8 126.5 161.3 196 225 233 255.3 277.7 300 325" y="591">柳萬・澄川(一宮興道)</text></g>
<g id="p135"><text class="d e" x="48.5" y="616.6">135</text><text class="n" x="57 91.8 126.5 161.3 196 225 247 286 325" y="616.6">福田・阿部(五条)</text></g>
<g id="p136"><text class="d e" x="48.5" y="642.3">136</text><text class="n" x="57 91.8 126.5 161.3 196 225 232 266 300 325" y="642.3">平野・和田(一宮南)</text></g>
<g id="p137"><text class="d e" x="48.5" y="667.9">137</text><text class="n" x="57 91.8 126.5 161.3 196 225 247 286 325" y="667.9">花井・杉田(津島)</text></g>
<g id="p138"><text class="d e" x="48.5" y="693.5">138</text><text class="n" x="57 84.8 112.6 140.4 168.2 196 225 232 266 300 325" y="693.5">宇佐見・古崎(起工業)</text></g>
<g id="p139"><text class="d e" x="48.5" y="719.1">139</text><text class="n" x="57 91.8 126.5 161.3 196 225 247 286 325" y="719.1">皆川・伊藤(西春)</text></g>
<g id="p140"><rect class="hl" x="13" y="723.2" width="320" height="27.5"/><text class="d e" x="48.5" y="744.7">140</text><text class="n" x="57 91.8 126.5 161.3 196 225 232 266 300 325" y="744.7">新井・藤田(木曽川)</text></g>
<g id="p141"><text class="d e" x="48.5" y="770.4">141</text><text class="n" x="57 91.8 126.5 161.3 196 225 247 286 325" y="770.4">簗瀬・野田(誠信)</text></g>
<g id="p142"><text class="d e" x="48.5" y="796">142</text><text class="n" x="57 91.8 126.5 161.3 196 225 247 286 325" y="796">豊田・加藤(津島)</text></g>
<g id="p143"><text class="d e" x="48.5" y="821.6">143</text><text class="n" x="57 91.8 126.5 161.3 196 225 247 286 325" y="821.6">伊藤・松本(西春)</text></g>
<g id="p144"><text class="d e" x="48.5" y="847.2">144</text><text class="n" x="57 91.8 126.5 161.3 196 225 233 255.3 277.7 300 325" y="847.2">松田・山田(一宮興道)</text></g>
<g id="p145"><text class="d e" x="48.5" y="872.8">145</text><text class="n" x="57 84.8 112.6 140.4 168.2 196 225 232 266 300 325" y="872.8">岩田・佐々木(起工業)</text></g>
<g id="p146"><text class="d e" x="48.5" y="898.5">146</text><text class="n" x="57 91.8 126.5 161.3 196 225 232 266 300 325" y="898.5">西野・冠者(一宮北)</text></g>
<g id="p147"><text class="d e" x="48.5" y="924.1">147</text><text class="n" x="57 84.8 112.6 140.4 168.2 196 225 232 266 300 325" y="924.1">武田・春日井(一宮南)</text></g>
<g id="p148"><text class="d e" x="48.5" y="949.7">148</text><text class="n" x="57 91.8 126.5 161.3 196 225 247 286 325" y="949.7">脇内・山田(一宮)</text></g>
<g id="p149"><text class="d e" x="48.5" y="975.3">149</text><text class="n" x="57 91.8 126.5 161.3 196 225 232 266 300 325" y="975.3">伊藤・杉山(木曽川)</text></g>
<g id="p150"><text class="d e" x="48.5" y="1000.9">150</text><text class="n" x="57 91.8 126.5 161.3 196 225 247 286 325" y="1000.9">小島・安藤(西春)</text></g>
<g id="p151"><rect class="hl" x="13" y="1005.1" width="320" height="27.5"/><text class="d e" x="48.5" y="1026.6">151</text><text class="n" x="57 91.8 126.5 161.3 196 225 247 286 325" y="1026.6">東池・南谷(杏和)</text></g>
<g id="p152"><text class="d e" x="48.5" y="1052.2">152</text><text class="n" x="57 91.8 126.5 161.3 196 225 266 325" y="1052.2">間宮・遠山(滝)</text></g>
<g id="p153"><text class="d e" x="48.5" y="1077.8">153</text><text class="n" x="57 103.3 149.7 196 225 232 266 300 325" y="1077.8">片桐・原(一宮西)</text></g>
<g id="p154"><text class="d e" x="48.5" y="1103.4">154</text><text class="n" x="57 91.8 126.5 161.3 196 225 233 255.3 277.7 300 325" y="1103.4">茂藤・白石(佐織工業)</text></g>
<g id="p155"><text class="d e" x="48.5" y="1129">155</text><text class="n" x="57 103.3 149.7 196 225 266 325" y="1129">桂・柴田(滝)</text></g>
<g id="p156"><text class="d e" x="48.5" y="1154.7">156</text><text class="n" x="57 91.8 126.5 161.3 196 225 232 266 300 325" y="1154.7">齋藤・松山(一宮南)</text></g>
<g id="p157"><text class="d e" x="48.5" y="1180.3">157</text><text class="n" x="57 91.8 126.5 161.3 196 225 247 286 325" y="1180.3">加藤・杉山(佐屋)</text></g>
<g id="p158"><text class="d e" x="48.5" y="1205.9">158</text><text class="n" x="57 91.8 126.5 161.3 196 225 232 266 300 325" y="1205.9">本美・足立(起工業)</text></g>
<g id="p159"><text class="d e" x="48.5" y="1231.5">159</text><text class="n" x="57 91.8 126.5 161.3 196 225 233 255.3 277.7 300 325" y="1231.5">河野・深谷(一宮興道)</text></g>
<g id="p160"><text class="d e" x="48.5" y="1257.1">160</text><text class="n" x="57 91.8 126.5 161.3 196 225 247 286 325" y="1257.1">新谷・伊神(西春)</text></g>
<g id="p161"><text class="d e" x="48.5" y="1282.8">161</text><text class="n" x="57 91.8 126.5 161.3 196 225 247 286 325" y="1282.8">村瀬・加藤(津島)</text></g>
<g id="p162"><text class="d e" x="48.5" y="1308.4">162</text><text class="n" x="57 103.3 149.7 196 225 247 286 325" y="1308.4">森・鈴木(五条)</text></g>
<g id="p163"><text class="d e" x="48.5" y="1334">163</text><text class="n" x="57 91.8 126.5 161.3 196 225 232 266 300 325" y="1334">國枝・苅谷(木曽川)</text></g>
<g id="p164"><text class="d e" x="48.5" y="1359.6">164</text><text class="n" x="57 91.8 126.5 161.3 196 225 232 266 300 325" y="1359.6">山田・三輪(一宮南)</text></g>
<g id="p165"><text class="d e" x="48.5" y="1385.2">165</text><text class="n" x="57 84.8 112.6 140.4 168.2 196 225 232 266 300 325" y="1385.2">野村森・岡嵜(一宮北)</text></g>
<g id="p166"><text class="d e" x="48.5" y="1410.9">166</text><text class="n" x="57 91.8 126.5 161.3 196 225 247 286 325" y="1410.9">和泉・佐藤(稲沢)</text></g>
<g id="p167"><text class="d e" x="48.5" y="1436.5">167</text><text class="n" x="57 91.8 126.5 161.3 196 225 233 255.3 277.7 300 325" y="1436.5">高井・中尾(佐織工業)</text></g>
<g id="p168"><rect class="hl" x="13" y="1440.6" width="320" height="27.5"/><text class="d e" x="48.5" y="1462.1">168</text><text class="n" x="57 84.8 112.6 140.4 168.2 196 225 232 266 300 325" y="1462.1">伊藤・長谷川(津島北)</text></g>
</g>

<g id="col4" transform="translate(2008 0)">
<g id="p169"><rect class="hl" x="52" y="31.5" width="322" height="27.5"/><text class="d" x="338" y="53">169</text><text class="n" x="57 91.8 126.5 161.3 196 226 234 255 276 297 320" y="53">畳谷・野田(一宮興道)</text></g>
<g id="p170"><text class="d" x="338" y="78.6">170</text><text class="n" x="57 103.3 149.7 196 226 239 268 297 320" y="78.6">森・水谷(起工業)</text></g>
<g id="p171"><text class="d" x="338" y="104.2">171</text><text class="n" x="57 84.8 112.6 140.4 168.2 196 226 239 268 297 320" y="104.2">久保田・柴田(一宮北)</text></g>
<g id="p172"><text class="d" x="338" y="129.9">172</text><text class="n" x="57 84.8 112.6 140.4 168.2 196 226 248 287 320" y="129.9">江藤・小久保(佐屋)</text></g>
<g id="p173"><text class="d" x="338" y="155.5">173</text><text class="n" x="57 91.8 126.5 161.3 196 226 248 287 320" y="155.5">安田・阿部(誠信)</text></g>
<g id="p174"><text class="d" x="338" y="181.1">174</text><text class="n" x="57 91.8 126.5 161.3 196 226 248 287 320" y="181.1">内藤・中野(五条)</text></g>
<g id="p175"><text class="d" x="338" y="206.7">175</text><text class="n" x="57 91.8 126.5 161.3 196 226 248 287 320" y="206.7">小栗・栗木(西春)</text></g>
<g id="p176"><text class="d" x="338" y="232.3">176</text><text class="n" x="57 91.8 126.5 161.3 196 226 234 255 276 297 320" y="232.3">末永・西川(佐織工業)</text></g>
<g id="p177"><text class="d" x="338" y="258">177</text><text class="n" x="57 91.8 126.5 161.3 196 226 239 268 297 320" y="258">白木・栃木(木曽川)</text></g>
<g id="p178"><text class="d" x="338" y="283.6">178</text><text class="n" x="57 91.8 126.5 161.3 196 226 239 268 297 320" y="283.6">川﨑・外山(一宮南)</text></g>
<g id="p179"><text class="d" x="338" y="309.2">179</text><text class="n" x="57 91.8 126.5 161.3 196 226 268 320" y="309.2">中桐・平山(滝)</text></g>
<g id="p180"><text class="d" x="338" y="334.8">180</text><text class="n" x="57 91.8 126.5 161.3 196 226 248 287 320" y="334.8">山本・山下(一宮)</text></g>
<g id="p181"><text class="d" x="338" y="360.4">181</text><text class="n" x="57 91.8 126.5 161.3 196 226 248 287 320" y="360.4">若松・筒井(津島)</text></g>
<g id="p182"><text class="d" x="338" y="386.1">182</text><text class="n" x="57 91.8 126.5 161.3 196 226 239 268 297 320" y="386.1">伊藤・田中(一宮西)</text></g>
<g id="p183"><text class="d" x="338" y="411.7">183</text><text class="n" x="57 103.3 149.7 196 226 239 268 297 320" y="411.7">水野・清(起工業)</text></g>
<g id="p184"><text class="d" x="338" y="437.3">184</text><text class="n" x="57 103.3 149.7 196 226 234 255 276 297 320" y="437.3">瀧・平野(一宮興道)</text></g>
<g id="p185"><text class="d" x="338" y="462.9">185</text><text class="n" x="57 91.8 126.5 161.3 196 226 239 268 297 320" y="462.9">吉田・吉田(木曽川)</text></g>
<g id="p186"><text class="d" x="338" y="488.5">186</text><text class="n" x="57 91.8 126.5 161.3 196 226 248 287 320" y="488.5">脇田・木下(一宮)</text></g>
<g id="p187"><text class="d" x="338" y="514.2">187</text><text class="n" x="57 91.8 126.5 161.3 196 226 248 287 320" y="514.2">山田・杉本(西春)</text></g>
<g id="p188"><text class="d" x="338" y="539.8">188</text><text class="n" x="57 91.8 126.5 161.3 196 226 239 268 297 320" y="539.8">黒田・神戸(津島北)</text></g>
<g id="p189"><text class="d" x="338" y="565.4">189</text><text class="n" x="57 91.8 126.5 161.3 196 226 239 268 297 320" y="565.4">園田・舛野(一宮北)</text></g>
<g id="p190"><text class="d" x="338" y="591">190</text><text class="n" x="57 84.8 112.6 140.4 168.2 196 226 268 320" y="591">新屋敷・相津(滝)</text></g>
<g id="p191"><text class="d" x="338" y="616.6">191</text><text class="n" x="57 91.8 126.5 161.3 196 226 239 268 297 320" y="616.6">佐藤・佐藤(津島北)</text></g>
<g id="p192"><text class="d" x="338" y="642.3">192</text><text class="n" x="57 91.8 126.5 161.3 196 226 239 268 297 320" y="642.3">矢澤・久保(一宮南)</text></g>
<g id="p193"><text class="d" x="338" y="667.9">193</text><text class="n" x="57 91.8 126.5 161.3 196 226 239 268 297 320" y="667.9">小島・松山(一宮南)</text></g>
<g id="p194"><text class="d" x="338" y="693.5">194</text><text class="n" x="57 91.8 126.5 161.3 196 226 248 287 320" y="693.5">寺田・山形(五条)</text></g>
<g id="p195"><text class="d" x="338" y="719.1">195</text><text class="n" x="57 91.8 126.5 161.3 196 226 234 255 276 297 320" y="719.1">則竹・古田(佐織工業)</text></g>
<g id="p196"><text class="d" x="338" y="744.7">196</text><text class="n" x="57 91.8 126.5 161.3 196 226 248 287 320" y="744.7">埜村・塚本(津島)</text></g>
<g id="p197"><text class="d" x="338" y="770.4">197</text><text class="n" x="57 84.8 112.6 140.4 168.2 196 226 239 268 297 320" y="770.4">日比野・山口(一宮南)</text></g>
<g id="p198"><text class="d" x="338" y="796">198</text><text class="n" x="57 91.8 126.5 161.3 196 226 268 320" y="796">竹川・酒井(滝)</text></g>
<g id="p199"><text class="d" x="338" y="821.6">199</text><text class="n" x="57 91.8 126.5 161.3 196 226 248 287 320" y="821.6">永井・寺田(五条)</text></g>
<g id="p200"><text class="d" x="338" y="847.2">200</text><text class="n" x="57 91.8 126.5 161.3 196 226 239 268 297 320" y="847.2">飯塚・加東(一宮北)</text></g>
<g id="p201"><text class="d" x="338" y="872.8">201</text><text class="n" x="57 103.3 149.7 196 226 239 268 297 320" y="872.8">川合・森(起工業)</text></g>
<g id="p202"><text class="d" x="338" y="898.5">202</text><text class="n" x="57 91.8 126.5 161.3 196 226 234 255 276 297 320" y="898.5">松前・大野(佐織工業)</text></g>
<g id="p203"><text class="d" x="338" y="924.1">203</text><text class="n" x="57 91.8 126.5 161.3 196 226 248 287 320" y="924.1">堀口・伊藤(西春)</text></g>
<g id="p204"><text class="d" x="338" y="949.7">204</text><text class="n" x="57 91.8 126.5 161.3 196 226 248 287 320" y="949.7">渡辺・丹羽(一宮)</text></g>
<g id="p205"><text class="d" x="338" y="975.3">205</text><text class="n" x="57 91.8 126.5 161.3 196 226 248 287 320" y="975.3">石川・上野(津島)</text></g>
<g id="p206"><text class="d" x="338" y="1000.9">206</text><text class="n" x="57 91.8 126.5 161.3 196 226 248 287 320" y="1000.9">大鹿・大宮(佐屋)</text></g>
<g id="p207"><text class="d" x="338" y="1026.6">207</text><text class="n" x="57 91.8 126.5 161.3 196 226 239 268 297 320" y="1026.6">戸田・浅原(起工業)</text></g>
<g id="p208"><text class="d" x="338" y="1052.2">208</text><text class="n" x="57 80.2 103.3 126.5 149.7 172.8 196 226 239 268 297 320" y="1052.2">尾形田口・大内(木曽川)</text></g>
<g id="p209"><text class="d" x="338" y="1077.8">209</text><text class="n" x="57 91.8 126.5 161.3 196 226 239 268 297 320" y="1077.8">村本・鹿島(一宮西)</text></g>
<g id="p210"><rect class="hl" x="52" y="1081.9" width="322" height="27.5"/><text class="d" x="338" y="1103.4">210</text><text class="n" x="57 91.8 126.5 161.3 196 226 248 287 320" y="1103.4">糸川・廣瀬(杏和)</text></g>
<g id="p211"><text class="d" x="338" y="1129">211</text><text class="n" x="57 91.8 126.5 161.3 196 226 248 287 320" y="1129">中村・廣島(稲沢)</text></g>
<g id="p212"><text class="d" x="338" y="1154.7">212</text><text class="n" x="57 91.8 126.5 161.3 196 226 239 268 297 320" y="1154.7">山川・木戸(一宮北)</text></g>
<g id="p213"><text class="d" x="338" y="1180.3">213</text><text class="n" x="57 91.8 126.5 161.3 196 226 248 287 320" y="1180.3">山田・近藤(西春)</text></g>
<g id="p214"><text class="d" x="338" y="1205.9">214</text><text class="n" x="57 91.8 126.5 161.3 196 226 239 268 297 320" y="1205.9">稲野・長尾(津島北)</text></g>
<g id="p215"><text class="d" x="338" y="1231.5">215</text><text class="n" x="57 103.3 149.7 196 226 234 255 276 297 320" y="1231.5">三宅・關(一宮興道)</text></g>
<g id="p216"><text class="d" x="338" y="1257.1">216</text><text class="n" x="57 91.8 126.5 161.3 196 226 239 268 297 320" y="1257.1">中村・米山(一宮南)</text></g>
<g id="p217"><text class="d" x="338" y="1282.8">217</text><text class="n" x="57 91.8 126.5 161.3 196 226 239 268 297 320" y="1282.8">松本・澤井(木曽川)</text></g>
<g id="p218"><text class="d" x="338" y="1308.4">218</text><text class="n" x="57 91.8 126.5 161.3 196 226 248 287 320" y="1308.4">大門・大橋(五条)</text></g>
<g id="p219"><text class="d" x="338" y="1334">219</text><text class="n" x="57 91.8 126.5 161.3 196 226 234 255 276 297 320" y="1334">時田・野口(佐織工業)</text></g>
<g id="p220"><text class="d" x="338" y="1359.6">220</text><text class="n" x="57 91.8 126.5 161.3 196 226 239 268 297 320" y="1359.6">河合・加納(起工業)</text></g>
<g id="p221"><text class="d" x="338" y="1385.2">221</text><text class="n" x="57 91.8 126.5 161.3 196 226 248 287 320" y="1385.2">若山・八木(津島)</text></g>
<g id="p222"><text class="d" x="338" y="1410.9">222</text><text class="n" x="57 91.8 126.5 161.3 196 226 234 255 276 297 320" y="1410.9">伊藤・浅井(一宮興道)</text></g>
<g id="p223"><text class="d" x="338" y="1436.5">223</text><text class="n" x="57 91.8 126.5 161.3 196 226 239 268 297 320" y="1436.5">仲畑・岩田(一宮南)</text></g>
<g id="p224"><rect class="hl" x="52" y="1440.6" width="322" height="27.5"/><text class="d" x="338" y="1462.1">224</text><text class="n" x="57 91.8 126.5 161.3 196 226 248 287 320" y="1462.1">今井・金森(誠信)</text></g>
</g>
</svg>
